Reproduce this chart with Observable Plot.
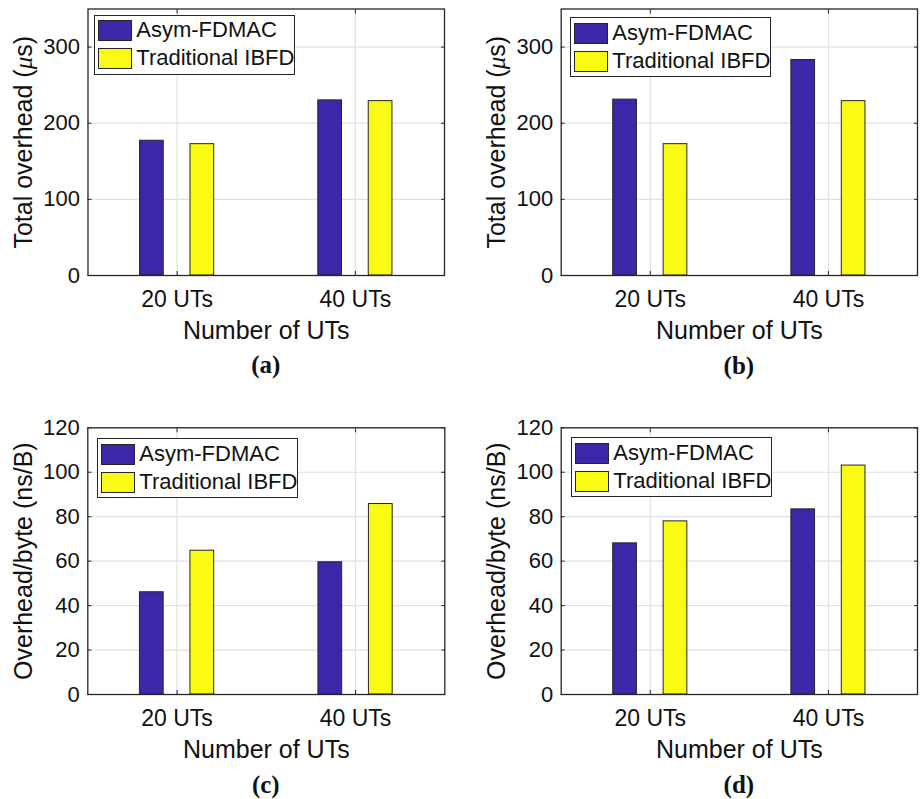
<!DOCTYPE html>
<html>
<head>
<meta charset="utf-8">
<script src="https://cdn.jsdelivr.net/npm/d3@7"></script>
<script src="https://cdn.jsdelivr.net/npm/@observablehq/plot@0.6"></script>
<style>
  html, body { margin: 0; padding: 0; background: #fff; }
  #root { position: relative; width: 922px; height: 799px; background: #fff; overflow: hidden; }
  .panel { position: absolute; }
  .legend { position: absolute; box-sizing: border-box; width: 201px; height: 60px; border: 1px solid #262626; background: #fff;
            font-family: "Liberation Sans", Arial, sans-serif; font-size: 22px; color: #111; }
  .legend .sw { position: absolute; left: 3px; width: 34px; height: 21px; box-sizing: border-box; border: 1px solid #262626; }
  .legend .lb { position: absolute; left: 41px; line-height: 22px; white-space: nowrap; }
  .cap { position: absolute; width: 100px; text-align: center; font-family: "Liberation Serif", "Times New Roman", serif;
         font-weight: bold; font-size: 25px; line-height: 24px; color: #111; }
</style>
</head>
<body>
<div id="root"></div>
<script>
// ---- data ----
const categories = ["20 UTs", "40 UTs"];
const series = ["Asym-FDMAC", "Traditional IBFD"];
const seriesColors = ["#3e26a8", "#f9fb15"];

const totalA_asym = [177, 230];
const totalA_trad = [172.5, 229];
const totalB_asym = [231, 283];
const totalB_trad = [172.5, 229];
const perByteC_asym = [46, 59.5];
const perByteC_trad = [64.7, 85.7];
const perByteD_asym = [68, 83.3];
const perByteD_trad = [77.9, 103];

const yTicksTotal = [0, 100, 200, 300];
const yTicksPerByte = [0, 20, 40, 60, 80, 100, 120];
const xLabel = "Number of UTs";
const yLabelTotal = "Total overhead (μs)";
const yLabelPerByte = "Overhead/byte (ns/B)";
const captions = ["(a)", "(b)", "(c)", "(d)"];

// ---- layout / style ----
const GROUP_OFFSET = 0.1415;
const BAR_W = 0.133;
const FONT = "Liberation Sans, Arial, Helvetica, sans-serif";
const INK = "#262626";
const GRID = "#e1e1e1";

const root = document.getElementById("root");

function panel({left, top, height, marginLeft, marginRight, marginTop, marginBottom, asym, trad, yMax, yTicks, yLabel, legDx, legDy, caption, capTop}) {
  const data = categories.flatMap((c, i) => [
    {pos: i + 1, series: series[0], k: -1, value: asym[i]},
    {pos: i + 1, series: series[1], k: 1, value: trad[i]}
  ]);
  const xt = categories.map((c, i) => i + 1);
  const chart = Plot.plot({
    width: 461, height, marginLeft, marginRight, marginTop, marginBottom,
    style: {fontFamily: FONT, fontSize: "22px", color: INK, background: "transparent", overflow: "visible"},
    x: {domain: [0.5, categories.length + 0.5], axis: null},
    y: {domain: [0, yMax], axis: null},
    color: {domain: series, range: seriesColors},
    marks: [
      Plot.gridX(xt, {stroke: GRID, strokeOpacity: 1, strokeWidth: 1.2}),
      Plot.gridY(yTicks, {stroke: GRID, strokeOpacity: 1, strokeWidth: 1.2}),
      Plot.rectY(data, {
        x1: d => d.pos + d.k * GROUP_OFFSET - BAR_W / 2,
        x2: d => d.pos + d.k * GROUP_OFFSET + BAR_W / 2,
        y1: 0, y2: "value", fill: "series", stroke: INK, strokeWidth: 1
      }),
      Plot.axisY(yTicks, {anchor: "left", tickSize: 0, tickPadding: 8, label: null, fontSize: 22, fill: "#111"}),
      Plot.axisY(yTicks, {anchor: "left", tickSize: -4, tickFormat: () => "", label: null, stroke: INK}),
      Plot.axisY(yTicks, {anchor: "right", tickSize: -4, tickFormat: () => "", label: null, stroke: INK}),
      Plot.axisX(xt, {anchor: "bottom", tickSize: 0, tickPadding: 15, tickFormat: d => categories[d - 1], label: null, fontSize: 23, fill: "#111"}),
      Plot.axisX(xt, {anchor: "bottom", tickSize: -4, tickFormat: () => "", label: null, stroke: INK}),
      Plot.axisX(xt, {anchor: "top", tickSize: -4, tickFormat: () => "", label: null, stroke: INK}),
      Plot.text([yLabel], {text: d => d, frameAnchor: "left", textAnchor: "middle", lineAnchor: "middle", dx: -64, rotate: -90, fontSize: 25, fill: "#111"}),
      Plot.text([xLabel], {text: d => d, frameAnchor: "bottom", textAnchor: "middle", lineAnchor: "middle", dy: 55, fontSize: 25, fill: "#111"}),
      Plot.frame({stroke: INK, strokeWidth: 1.3})
    ]
  });
  // italic mu
  d3.select(chart).selectAll("text").each(function () {
    const t = this.textContent;
    if (t.includes("μ") && this.childElementCount === 0) {
      const parts = t.split("μ");
      const s = d3.select(this);
      s.text(null);
      s.append("tspan").text(parts[0]);
      s.append("tspan").attr("font-style", "italic").attr("font-family", "Liberation Serif, Times New Roman, serif").text("μ");
      s.append("tspan").text(parts[1]);
    }
  });
  const wrap = document.createElement("div");
  wrap.className = "panel";
  wrap.style.left = left + "px";
  wrap.style.top = top + "px";
  wrap.appendChild(chart);
  root.appendChild(wrap);

  // legend
  const leg = document.createElement("div");
  leg.className = "legend";
  leg.style.left = (left + marginLeft + legDx) + "px";
  leg.style.top = (top + marginTop + legDy) + "px";
  series.forEach((s, i) => {
    const sw = document.createElement("div");
    sw.className = "sw";
    sw.style.top = (4.5 + i * 28.3) + "px";
    sw.style.background = seriesColors[i];
    leg.appendChild(sw);
    const lb = document.createElement("div");
    lb.className = "lb";
    lb.style.top = (3.5 + i * 28.3) + "px";
    lb.textContent = s;
    leg.appendChild(lb);
  });
  root.appendChild(leg);

  // caption
  const frameCenter = left + marginLeft + (461 - marginLeft - marginRight) / 2;
  const cap = document.createElement("div");
  cap.className = "cap";
  cap.style.left = (frameCenter - 50) + "px";
  cap.style.top = capTop + "px";
  cap.textContent = caption;
  root.appendChild(cap);
}

panel({left: 0, top: 0, height: 340, marginLeft: 87.5, marginRight: 17, marginTop: 8.5, marginBottom: 65,
  asym: totalA_asym, trad: totalA_trad, yMax: 350, yTicks: yTicksTotal, yLabel: yLabelTotal, legDx: 6.8, legDy: 6.2, caption: captions[0], capTop: 353});
panel({left: 461, top: 0, height: 340, marginLeft: 99.7, marginRight: 5, marginTop: 8.5, marginBottom: 65,
  asym: totalB_asym, trad: totalB_trad, yMax: 350, yTicks: yTicksTotal, yLabel: yLabelTotal, legDx: 9.6, legDy: 8.8, caption: captions[1], capTop: 354});
panel({left: 0, top: 410, height: 350, marginLeft: 87.3, marginRight: 16.7, marginTop: 17.3, marginBottom: 66,
  asym: perByteC_asym, trad: perByteC_trad, yMax: 120, yTicks: yTicksPerByte, yLabel: yLabelPerByte, legDx: 10, legDy: 11, caption: captions[2], capTop: 773});
panel({left: 461, top: 410, height: 350, marginLeft: 99.7, marginRight: 5, marginTop: 17.3, marginBottom: 66,
  asym: perByteD_asym, trad: perByteD_trad, yMax: 120, yTicks: yTicksPerByte, yLabel: yLabelPerByte, legDx: 10.6, legDy: 10, caption: captions[3], capTop: 773});
</script>
</body>
</html>
